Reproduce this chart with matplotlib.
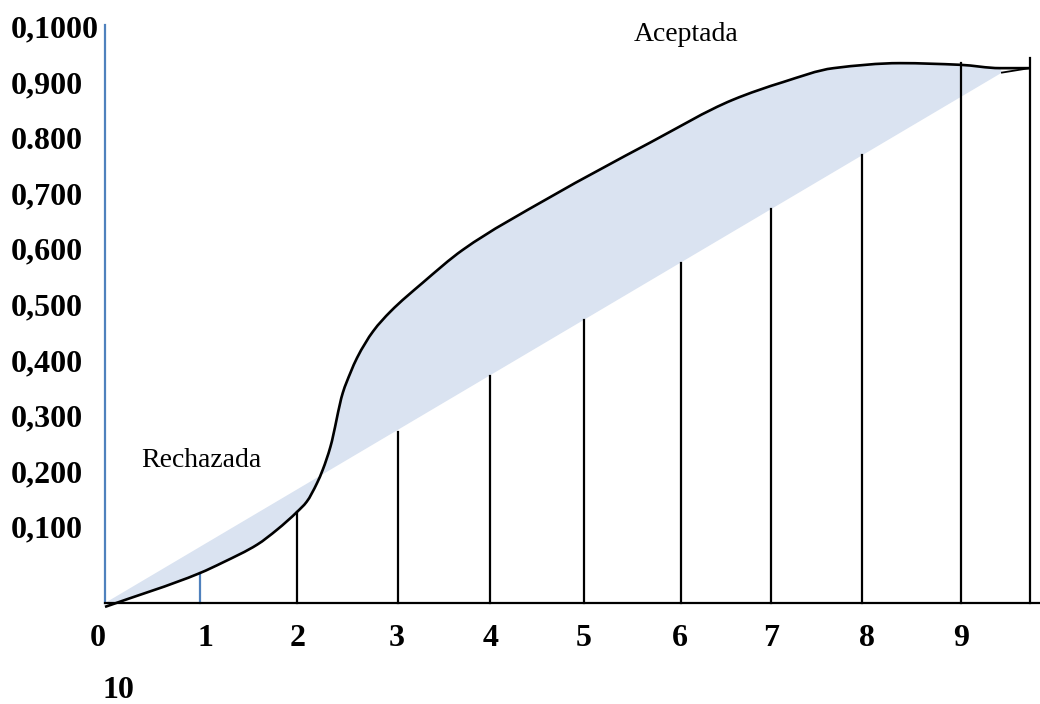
import matplotlib
matplotlib.use("Agg")
import matplotlib.pyplot as plt
from matplotlib.path import Path
from matplotlib.patches import PathPatch
import numpy as np

plt.rcParams['font.family'] = ['Liberation Serif', 'DejaVu Serif']

# ---- data ----
x_tick_pos = [-0.08, 1.06, 2.02, 3.07, 4.05, 5.03, 6.04, 7.0, 8.01, 9.0]
x_labels = ['0', '1', '2', '3', '4', '5', '6', '7', '8', '9']
y_ticks = [0.1, 0.2, 0.3, 0.4, 0.5, 0.6, 0.7, 0.8, 0.9, 1.0]
y_labels = ['0,100', '0,200', '0,300', '0,400', '0,500', '0,600',
            '0,700', '0.800', '0,900', '0,1000']

curve_x = [0.0, 1.0, 1.24, 1.60, 1.81, 2.02, 2.12, 2.23, 2.29, 2.37, 2.50,
           2.58, 2.65, 2.82, 3.00, 3.34, 3.76, 4.68, 5.73, 6.60, 7.13, 7.66,
           8.36, 8.99, 9.41, 9.72]
curve_y = [-0.044, 0.017, 0.036, 0.068, 0.095, 0.127, 0.145, 0.179, 0.203,
           0.244, 0.341, 0.377, 0.404, 0.452, 0.487, 0.539, 0.598, 0.693,
           0.791, 0.868, 0.900, 0.925, 0.934, 0.931, 0.925, 0.925]

diag_x = [0.0, 9.43]
diag_y = [-0.037, 0.917]

vline_x = [1.0, 2.02, 3.08, 4.05, 5.04, 6.06, 7.0, 7.96, 9.0, 9.72]
vline_top = [0.017, 0.127, 0.271, 0.372, 0.472, 0.575, 0.672, 0.768, 0.934, 0.943]
vline_color = ['#4F81BD'] + ['black'] * 9

y_floor = -0.037


def pchip_slopes(x, y):
    h = np.diff(x)
    d = np.diff(y) / h
    n = len(x)
    m = np.zeros(n)
    for i in range(1, n - 1):
        if d[i - 1] * d[i] <= 0:
            m[i] = 0.0
        else:
            w1 = 2 * h[i] + h[i - 1]
            w2 = h[i] + 2 * h[i - 1]
            m[i] = (w1 + w2) / (w1 / d[i - 1] + w2 / d[i])
    m[0] = d[0]
    m[-1] = d[-1]
    return m


def smooth_path_vertices(xs, ys):
    """Monotone cubic through the points, as cubic Bezier path codes."""
    x = np.asarray(xs, float)
    y = np.asarray(ys, float)
    m = pchip_slopes(x, y)
    verts = [(x[0], y[0])]
    codes = [Path.MOVETO]
    for i in range(len(x) - 1):
        h = x[i + 1] - x[i]
        verts += [(x[i] + h / 3, y[i] + m[i] * h / 3),
                  (x[i + 1] - h / 3, y[i + 1] - m[i + 1] * h / 3),
                  (x[i + 1], y[i + 1])]
        codes += [Path.CURVE4] * 3
    return verts, codes


fig = plt.figure(figsize=(10.4, 7.04), dpi=100)
ax = fig.add_axes([105 / 1040, 101 / 704, 935 / 1040, 578 / 704])

cx = np.array(curve_x)
cy = np.array(curve_y)

# shaded band between the diagonal and the curve
mask = cx <= diag_x[1]
fv, fcodes = smooth_path_vertices(cx[mask], cy[mask])
fv += [(diag_x[1], diag_y[1]), (diag_x[0], diag_y[0]), (diag_x[0], diag_y[0])]
fcodes += [Path.LINETO, Path.LINETO, Path.CLOSEPOLY]
ax.add_patch(PathPatch(Path(fv, fcodes), facecolor='#DAE3F1', edgecolor='none',
                       zorder=1))

# small end stroke of the diagonal
ax.plot([diag_x[1], curve_x[-1]], [diag_y[1], curve_y[-1]],
        color='black', lw=1.3, zorder=3)

# vertical lines
for xv, top, col in zip(vline_x, vline_top, vline_color):
    ax.plot([xv, xv], [y_floor, top], color=col, lw=1.6, zorder=2, clip_on=False)

# curve
cv, ccodes = smooth_path_vertices(cx, cy)
ax.add_patch(PathPatch(Path(cv, ccodes), facecolor='none', edgecolor='black',
                       lw=1.9, zorder=4, clip_on=False))

# spines
for s in ['top', 'right']:
    ax.spines[s].set_visible(False)
ax.spines['left'].set_color('#4F81BD')
ax.spines['left'].set_linewidth(1.6)
ax.spines['bottom'].set_color('black')
ax.spines['bottom'].set_linewidth(1.6)

# x labels (the first one sits left of the axis, so it is an annotation)
ax.set_xticks(x_tick_pos[1:])
ax.set_xticklabels(x_labels[1:], fontsize=23, fontweight='bold')
ax.tick_params(axis='x', length=0, pad=15)
ax.annotate(x_labels[0], xy=(x_tick_pos[0], 0), xycoords=('data', 'axes fraction'),
            xytext=(0, -15), textcoords='offset points', ha='center', va='top',
            fontsize=23, fontweight='bold', annotation_clip=False)

ax.set_yticks(y_ticks)
ax.set_yticklabels(y_labels, fontsize=23, fontweight='bold')
ax.tick_params(axis='y', length=0, pad=68)
for lab in ax.get_yticklabels():
    lab.set_horizontalalignment('left')

ax.set_xlim(0, 9.83)
ax.set_ylim(y_floor, 1.0026)

fig.text(118 / 1040, 1 - 690 / 704, '10', fontsize=23, fontweight='bold',
         ha='center', va='center')

ax.text(6.11, 0.985, 'Aceptada', fontsize=20, ha='center', va='center')
ax.text(1.01, 0.219, 'Rechazada', fontsize=20, ha='center', va='center')

fig.savefig('out.png', dpi=100)
